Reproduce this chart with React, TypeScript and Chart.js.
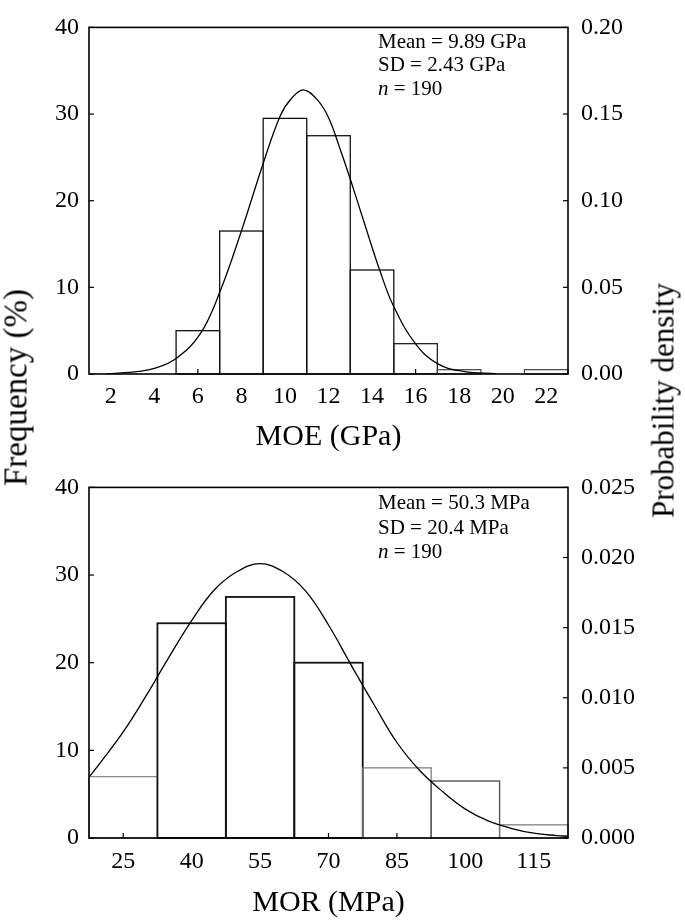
import React, { useEffect, useRef } from "react";
import { Chart, registerables } from "chart.js";

Chart.register(...registerables);

// ---------- MOE (top panel) ----------
const moeBins = [6, 8, 10, 12, 14, 16, 18, 20, 22];
const moeFreq = [5, 16.5, 29.5, 27.5, 12, 3.5, 0.5, 0, 0.5];
const moeCurveX = [1.8, 3.3, 4.0, 5.0, 6.1, 7.0, 8.0, 9.0, 9.8, 10.3, 10.85, 11.5, 12.0, 12.5, 13.0, 13.7, 14.35, 15.0, 16.0, 17.0, 18.2, 19.7];
const moeCurveY = [0.0, 0.0015, 0.0032, 0.009, 0.023, 0.047, 0.0825, 0.1215, 0.1495, 0.159, 0.164, 0.158, 0.148, 0.131, 0.1125, 0.085, 0.06, 0.0388, 0.0174, 0.006, 0.0015, 0.0002];
const moeXTicks = [2, 4, 6, 8, 10, 12, 14, 16, 18, 20, 22];
const moeTickMarks = [6, 16];
const moeFreqTicks = [0, 10, 20, 30, 40];
const moeDensityTicks = [0, 0.05, 0.1, 0.15, 0.2];
const moeStats = ["Mean = 9.89 GPa", "SD = 2.43 GPa", "190"];
const moeTitle = "MOE (GPa)";

// ---------- MOR (bottom panel) ----------
const morBins = [25, 40, 55, 70, 85, 100, 115];
const morFreq = [7, 24.5, 27.5, 20, 8, 6.5, 1.5];
const morCurveX = [17.5, 20, 25, 30, 35, 40, 45, 50, 55, 60, 65, 70, 75, 80, 85, 90, 95, 100, 105, 110, 115, 120, 122.5];
const morCurveY = [0.00434, 0.00538, 0.00756, 0.01013, 0.01288, 0.0155, 0.0177, 0.0190, 0.01956, 0.0190, 0.0176, 0.01519, 0.01231, 0.0095, 0.00681, 0.00481, 0.00331, 0.00206, 0.00122, 0.00069, 0.00034, 0.000175, 0.000125];
const morXTicks = [25, 40, 55, 70, 85, 100, 115];
const morTickMarks = [25, 70, 85];
const morFreqTicks = [0, 10, 20, 30, 40];
const morDensityTicks = [0, 0.005, 0.01, 0.015, 0.02, 0.025];
const morStats = ["Mean = 50.3 MPa", "SD = 20.4 MPa", "190"];
const morTitle = "MOR (MPa)";

const yTitleLeft = "Frequency (%)";
const yTitleRight = "Probability density";

const FONT = "'Liberation Serif', 'Times New Roman', serif";

const framePlugin = {
  id: "frame",
  afterDatasetDraw(chart: any, args: any) {
    const ds = chart.data.datasets[args.index];
    if (!ds.outline) return;
    const ctx = chart.ctx;
    ctx.save();
    args.meta.data.forEach((el: any, i: number) => {
      const v = ds.data[i].y;
      if (!v) return;
      const { x, y, base, width } = el.getProps(["x", "y", "base", "width"], true);
      ctx.strokeStyle = ds.outlineColors[i];
      ctx.lineWidth = ds.outlineWidths[i];
      ctx.strokeRect(x - width / 2, y, width, base - y);
    });
    ctx.restore();
  },
  afterDraw(chart: any, _args: any, opts: any) {
    const { ctx, chartArea } = chart;
    const { left, right, top, bottom } = chartArea;
    ctx.save();
    ctx.strokeStyle = "#000";
    ctx.lineWidth = 1.2;
    const yS = chart.scales.y;
    yS.ticks.forEach((t: any) => {
      const p = yS.getPixelForValue(t.value);
      ctx.beginPath();
      ctx.moveTo(left, p);
      ctx.lineTo(left + 5, p);
      ctx.stroke();
    });
    const y1S = chart.scales.y1;
    y1S.ticks.forEach((t: any) => {
      const p = y1S.getPixelForValue(t.value);
      ctx.beginPath();
      ctx.moveTo(right, p);
      ctx.lineTo(right - 5, p);
      ctx.stroke();
    });
    const xS = chart.scales.x;
    (opts.xMarks || []).forEach((v: number) => {
      const p = xS.getPixelForValue(v);
      ctx.beginPath();
      ctx.moveTo(p, bottom);
      ctx.lineTo(p, bottom - 5);
      ctx.stroke();
    });
    ctx.lineWidth = 1.6;
    ctx.strokeRect(left, top, right - left, bottom - top);
    ctx.restore();
  },
};

type PanelProps = {
  bins: number[];
  freq: number[];
  curveX: number[];
  curveY: number[];
  xTicks: number[];
  xMarks: number[];
  xMin: number;
  xMax: number;
  freqTicks: number[];
  densTicks: number[];
  densMax: number;
  densDecimals: number;
  title: string;
  padTop: number;
  height: number;
  tickPad: number;
  titlePad: number;
  outlineColors: string[];
  outlineWidths: number[];
};

function Panel(p: PanelProps) {
  const ref = useRef<HTMLCanvasElement>(null);
  useEffect(() => {
    if (!ref.current) return;
    const chart = new Chart(ref.current, {
      type: "bar",
      data: {
        datasets: [
          {
            type: "line",
            data: p.curveX.map((x, i) => ({ x, y: p.curveY[i] })),
            yAxisID: "y1",
            borderColor: "#000",
            borderWidth: 1.3,
            pointRadius: 0,
            fill: false,
            tension: 0.4,
            order: 0,
          } as any,
          {
            type: "bar",
            data: p.bins.map((x, i) => ({ x, y: p.freq[i] })),
            yAxisID: "y",
            backgroundColor: "#fff",
            borderWidth: 0,
            barPercentage: 1,
            categoryPercentage: 1,
            order: 1,
            outline: true,
            outlineColors: p.outlineColors,
            outlineWidths: p.outlineWidths,
          } as any,
        ],
      },
      options: {
        responsive: false,
        animation: false,
        events: [],
        layout: { padding: { top: p.padTop, left: 0, right: 0, bottom: 0 } },
        plugins: {
          legend: { display: false },
          tooltip: { enabled: false },
          frame: { xMarks: p.xMarks },
        } as any,
        scales: {
          x: {
            type: "linear",
            min: p.xMin,
            max: p.xMax,
            offset: false,
            grid: { display: false, drawTicks: false },
            border: { display: false },
            afterBuildTicks: (s: any) => {
              s.ticks = p.xTicks.map((v) => ({ value: v }));
            },
            afterFit: (s: any) => {
              s.height = 86;
            },
            ticks: {
              color: "#000",
              padding: p.tickPad,
              maxRotation: 0,
              autoSkip: false,
              font: { family: FONT, size: 24 },
              callback: (v: any) => String(v),
            },
            title: {
              display: true,
              text: p.title,
              color: "#000",
              font: { family: FONT, size: 30 },
              padding: { top: 0, bottom: p.titlePad },
            },
          },
          y: {
            type: "linear",
            position: "left",
            min: 0,
            max: 40,
            grid: { display: false, drawTicks: false },
            border: { display: false },
            afterBuildTicks: (s: any) => {
              s.ticks = p.freqTicks.map((v) => ({ value: v }));
            },
            afterFit: (s: any) => {
              s.width = 89;
            },
            ticks: {
              color: "#000",
              padding: 10,
              font: { family: FONT, size: 24 },
              callback: (v: any) => String(v),
            },
          },
          y1: {
            type: "linear",
            position: "right",
            min: 0,
            max: p.densMax,
            grid: { display: false, drawTicks: false },
            border: { display: false },
            afterBuildTicks: (s: any) => {
              s.ticks = p.densTicks.map((v) => ({ value: v }));
            },
            afterFit: (s: any) => {
              s.width = 117;
            },
            ticks: {
              color: "#000",
              padding: 13,
              font: { family: FONT, size: 24 },
              callback: (v: any) => Number(v).toFixed(p.densDecimals),
            },
          },
        },
      } as any,
      plugins: [framePlugin as any],
    });
    return () => chart.destroy();
  }, []);
  return (
    <canvas
      ref={ref}
      width={685}
      height={p.height}
      style={{ display: "block", width: 685, height: p.height }}
    />
  );
}

function Stats({ lines, top, lh }: { lines: string[]; top: number; lh: number }) {
  return (
    <div
      style={{
        position: "absolute",
        left: 378,
        top,
        fontFamily: FONT,
        fontSize: 21,
        lineHeight: lh + "px",
        color: "#000",
        whiteSpace: "nowrap",
      }}
    >
      <div>{lines[0]}</div>
      <div>{lines[1]}</div>
      <div>
        <i>n</i> = {lines[2]}
      </div>
    </div>
  );
}

function VTitle({ text, cx, cy, size }: { text: string; cx: number; cy: number; size: number }) {
  const w = 400;
  return (
    <div
      style={{
        position: "absolute",
        left: cx - w / 2,
        top: cy - size / 2,
        width: w,
        height: size,
        lineHeight: size + "px",
        fontSize: size,
        fontFamily: FONT,
        color: "#000",
        textAlign: "center",
        whiteSpace: "nowrap",
        transform: "rotate(-90deg)",
      }}
    >
      {text}
    </div>
  );
}

export default function App() {
  return (
    <div style={{ position: "absolute", left: 0, top: 0, width: 685, height: 924, background: "#fff" }}>
      <div style={{ position: "absolute", left: 0, top: 0 }}>
        <Panel
          bins={moeBins}
          freq={moeFreq}
          curveX={moeCurveX}
          curveY={moeCurveY}
          xTicks={moeXTicks}
          xMarks={moeTickMarks}
          xMin={1}
          xMax={23}
          freqTicks={moeFreqTicks}
          densTicks={moeDensityTicks}
          densMax={0.2}
          densDecimals={2}
          title={moeTitle}
          padTop={16}
          height={460}
          tickPad={8}
          titlePad={5}
          outlineColors={["#111", "#111", "#111", "#111", "#111", "#222", "#444", "#444", "#444"]}
          outlineWidths={[1.3, 1.3, 1.3, 1.3, 1.3, 1.3, 1.2, 1.2, 1.2]}
        />
      </div>
      <div style={{ position: "absolute", left: 0, top: 460 }}>
        <Panel
          bins={morBins}
          freq={morFreq}
          curveX={morCurveX}
          curveY={morCurveY}
          xTicks={morXTicks}
          xMarks={morTickMarks}
          xMin={17.5}
          xMax={122.5}
          freqTicks={morFreqTicks}
          densTicks={morDensityTicks}
          densMax={0.025}
          densDecimals={3}
          title={morTitle}
          padTop={19}
          height={464}
          tickPad={9}
          titlePad={3}
          outlineColors={["#888", "#111", "#111", "#111", "#777", "#555", "#777"]}
          outlineWidths={[1.2, 1.8, 1.8, 1.8, 1.2, 1.4, 1.2]}
        />
      </div>
      <Stats lines={moeStats} top={29.5} lh={23.6} />
      <Stats lines={morStats} top={490} lh={24.5} />
      <VTitle text={yTitleLeft} cx={15.7} cy={387} size={33} />
      <VTitle text={yTitleRight} cx={663} cy={400} size={31} />
    </div>
  );
}
